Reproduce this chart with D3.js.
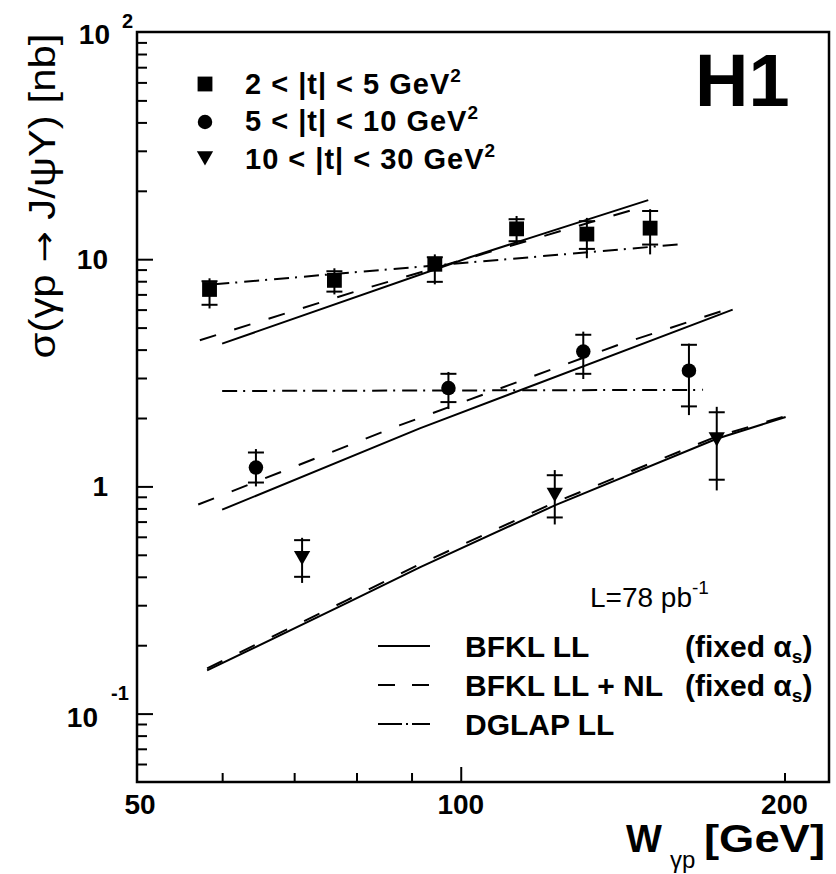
<!DOCTYPE html>
<html><head><meta charset="utf-8">
<script src="https://cdn.jsdelivr.net/npm/d3@7"></script>
<style>
body{margin:0;background:#fff}
svg{display:block}
text{font-family:"Liberation Sans",Arial,Helvetica,sans-serif;fill:#000}
</style>
</head><body>
<svg id="c" width="836" height="874"></svg>
<script>
// ---------- data ----------
// 2 < |t| < 5 GeV^2 (squares)
const wT1 = [58.4, 76.3, 94.6, 112.7, 131, 150];
const sT1 = [7.36, 8.07, 9.5, 13.6, 12.9, 13.7];
const statHiT1 = [8.0, 8.85, 10.2, 15.0, 14.7, 16.3];
const statLoT1 = [6.3, 7.2, 7.95, 12.0, 11.1, 11.6];
const totHiT1 = [8.24, 9.12, 10.5, 15.5, 15.2, 16.6];
const totLoT1 = [6.07, 7.0, 7.75, 11.65, 10.1, 10.5];
// 5 < |t| < 10 GeV^2 (circles)
const wT2 = [64.5, 97.4, 130, 163];
const sT2 = [1.21, 2.71, 3.92, 3.23];
const statHiT2 = [1.41, 3.13, 4.65, 4.2];
const statLoT2 = [1.04, 2.35, 3.13, 2.25];
const totHiT2 = [1.46, 3.19, 4.80, 4.25];
const totLoT2 = [1.0, 2.19, 2.97, 2.06];
// 10 < |t| < 30 GeV^2 (triangles)
const wT3 = [71.2, 122.3, 173];
const sT3 = [0.495, 0.94, 1.65];
const statHiT3 = [0.58, 1.12, 2.12];
const statLoT3 = [0.40, 0.73, 1.07];
const totHiT3 = [0.594, 1.18, 2.24];
const totLoT3 = [0.376, 0.68, 0.96];

// theory curves [W, sigma]
const bfklT1 = [[60, 4.25], [102, 10.2], [149.4, 18.2]];
const bfklNlT1 = [[57.2, 4.4], [80.5, 7.3], [146.5, 16.8]];
const dglapT1 = [[59, 7.75], [160.8, 11.65]];
const bfklT2 = [[60, 0.79], [91.6, 1.80], [179, 6.0]];
const bfklNlT2 = [[57, 0.832], [87.8, 1.86], [140.4, 4.21], [179, 6.13]];
const dglapT2 = [[60, 2.63], [168, 2.66]];
const bfklT3 = [[58.1, 0.155], [78.4, 0.307], [91.6, 0.44], [122.3, 0.825], [173, 1.62], [200.5, 2.02]];
const bfklNlT3 = [[58.1, 0.158], [78.4, 0.316], [91.6, 0.455], [122.3, 0.85], [173, 1.66], [200.5, 2.04]];

// ticks
const xLabels = [50, 100, 200];
const xMajorTicks = [100];
const xMinorTicks = [60, 70, 80, 90, 200];
const yMajorTicks = [0.1, 1, 10];
const yMinorTicks = [0.06, 0.07, 0.08, 0.09, 0.2, 0.3, 0.4, 0.5, 0.6, 0.7, 0.8, 0.9,
                     2, 3, 4, 5, 6, 7, 8, 9, 20, 30, 40, 50, 60, 70, 80, 90];

const seriesLabels = ["2 < |t| < 5 GeV", "5 < |t| < 10 GeV", "10 < |t| < 30 GeV"];
const curveLabels = ["BFKL LL", "BFKL LL + NL", "DGLAP LL"];

// ---------- layout ----------
const L = 137, R = 829, T = 32, B = 782;
const svg = d3.select("#c");
const x = d3.scaleLog().domain([50, 220]).range([L, R]);
const y = d3.scaleLog().domain([0.05, 100]).range([B, T]);

// ticks (inward)
const gx = svg.append("g").attr("transform", `translate(0,${B})`);
gx.call(d3.axisBottom(x).tickValues(xMajorTicks).tickSize(-15).tickFormat(""));
gx.append("g").call(d3.axisBottom(x).tickValues(xMinorTicks).tickSize(-9).tickFormat(""));
const gy = svg.append("g").attr("transform", `translate(${L},0)`);
gy.call(d3.axisLeft(y).tickValues(yMajorTicks).tickSize(-16).tickFormat(""));
gy.append("g").call(d3.axisLeft(y).tickValues(yMinorTicks).tickSize(-10).tickFormat(""));
svg.selectAll(".domain").remove();
svg.selectAll(".tick line").attr("stroke", "#000").attr("stroke-width", 2);

// frame
svg.append("rect").attr("x", L).attr("y", T).attr("width", R - L).attr("height", B - T)
  .attr("fill", "none").attr("stroke", "#000").attr("stroke-width", 2.5);

// tick labels
svg.selectAll(".xl").data(xLabels).enter().append("text")
  .attr("x", d => x(d) + (d === 50 ? 3 : 0)).attr("y", 814)
  .attr("text-anchor", "middle").attr("font-size", 28).attr("font-weight", "bold")
  .text(d => d);

function yLab(v, base, exp) {
  const t = svg.append("text").attr("font-weight", "bold").attr("font-size", 28);
  if (exp === null) {
    t.attr("x", 108).attr("y", y(v) + 10).attr("text-anchor", "end").text(base);
  } else {
    t.attr("x", exp === "2" ? 110 : 98).attr("y", y(v) + (exp === "2" ? 12 : 13))
      .attr("text-anchor", "end").text(base);
    svg.append("text").attr("font-weight", "bold").attr("font-size", 20)
      .attr("x", exp === "2" ? 122 : 111).attr("y", y(v) + (exp === "2" ? -4 : -14)).text(exp);
  }
}
yLab(100, "10", "2");
yLab(10, "10", null);
yLab(1, "1", null);
yLab(0.1, "10", "-1");

// axis titles
const yt = svg.append("text").attr("transform", "translate(55,196) rotate(-90)")
  .attr("text-anchor", "middle").attr("font-size", 36)
  .attr("textLength", 325).attr("lengthAdjust", "spacingAndGlyphs");
yt.append("tspan").text("σ(γp ");
yt.append("tspan").attr("font-family", "DejaVu Sans").attr("font-size", 32).text("→");
yt.append("tspan").text(" J/ψY) [nb]");

svg.append("text").attr("x", 626).attr("y", 852).attr("font-size", 38).attr("font-weight", "bold").text("W");
svg.append("text").attr("x", 670).attr("y", 868).attr("font-size", 24).text("γp");
svg.append("text").attr("x", 704).attr("y", 852).attr("font-size", 38).attr("font-weight", "bold")
  .attr("textLength", 121).attr("lengthAdjust", "spacingAndGlyphs").text("[GeV]");

// H1 and luminosity
svg.append("text").attr("x", 695).attr("y", 106).attr("font-size", 74).attr("font-weight", "bold").text("H1");
const lum = svg.append("text").attr("x", 590).attr("y", 607).attr("font-size", 28);
lum.append("tspan").text("L=78 pb");
lum.append("tspan").attr("font-size", 19).attr("dy", -13).text("-1");

// ---------- curves ----------
const line = d3.line().x(d => x(d[0])).y(d => y(d[1]));
const DASH = "17,19", DASHDOT = "15,6,2,7";
function curve(data, dash) {
  svg.append("path").datum(data).attr("d", line).attr("fill", "none")
    .attr("stroke", "#000").attr("stroke-width", 2)
    .attr("stroke-dasharray", dash);
}
curve(bfklT1, null); curve(bfklNlT1, DASH); curve(dglapT1, DASHDOT);
curve(bfklT2, null); curve(bfklNlT2, DASH); curve(dglapT2, DASHDOT);
curve(bfklT3, null); curve(bfklNlT3, DASH);

// ---------- data points ----------
const symSq = d3.symbol().type(d3.symbolSquare).size(220);
const symCi = d3.symbol().type(d3.symbolCircle).size(165);
const symTr = d3.symbol().type(d3.symbolTriangle).size(115);

function points(ws, ss, sHi, sLo, tHi, tLo, sym, rot) {
  const g = svg.append("g");
  ws.forEach((w, i) => {
    const cx = x(w);
    g.append("line").attr("x1", cx).attr("x2", cx).attr("y1", y(tHi[i])).attr("y2", y(tLo[i]))
      .attr("stroke", "#000").attr("stroke-width", 2);
    [sHi[i], sLo[i]].forEach(v => {
      g.append("line").attr("x1", cx - 8).attr("x2", cx + 8).attr("y1", y(v)).attr("y2", y(v))
        .attr("stroke", "#000").attr("stroke-width", 2);
    });
    g.append("path").attr("d", sym()).attr("fill", "#000")
      .attr("transform", `translate(${cx},${y(ss[i])}) rotate(${rot})`);
  });
}
points(wT1, sT1, statHiT1, statLoT1, totHiT1, totLoT1, symSq, 0);
points(wT2, sT2, statHiT2, statLoT2, totHiT2, totLoT2, symCi, 0);
points(wT3, sT3, statHiT3, statLoT3, totHiT3, totLoT3, symTr, 180);

// ---------- legend: series ----------
const legY = [84, 122, 158];
const legBase = [94, 131, 169];
const legSyms = [[symSq, 0], [symCi, 0], [symTr, 180]];
seriesLabels.forEach((lab, i) => {
  svg.append("path").attr("d", legSyms[i][0]()).attr("fill", "#000")
    .attr("transform", `translate(205,${legY[i] + (i === 2 ? -2 : 0)}) rotate(${legSyms[i][1]})`);
  const t = svg.append("text").attr("x", 245).attr("y", legBase[i])
    .attr("font-size", 29).attr("font-weight", "bold").attr("letter-spacing", 1);
  t.append("tspan").text(lab);
  t.append("tspan").attr("font-size", 19).attr("dy", -12).text("2");
});

// ---------- legend: curves ----------
const cLineY = [646, 685, 724];
const cBase = [657, 696, 735];
const cDash = [null, "17,17", "24,4,2,4"];
curveLabels.forEach((lab, i) => {
  svg.append("line").attr("x1", 378).attr("x2", 430).attr("y1", cLineY[i]).attr("y2", cLineY[i])
    .attr("stroke", "#000").attr("stroke-width", 2).attr("stroke-dasharray", cDash[i]);
  svg.append("text").attr("x", 465).attr("y", cBase[i]).attr("font-size", 30)
    .attr("font-weight", "bold").text(lab);
  if (i < 2) {
    const f = svg.append("text").attr("x", 685).attr("y", cBase[i]).attr("font-size", 30)
      .attr("font-weight", "bold");
    f.append("tspan").text("(fixed α");
    f.append("tspan").attr("font-size", 19).attr("dy", 6).text("s");
    f.append("tspan").attr("dy", -6).text(")");
  }
});
</script>
</body></html>
